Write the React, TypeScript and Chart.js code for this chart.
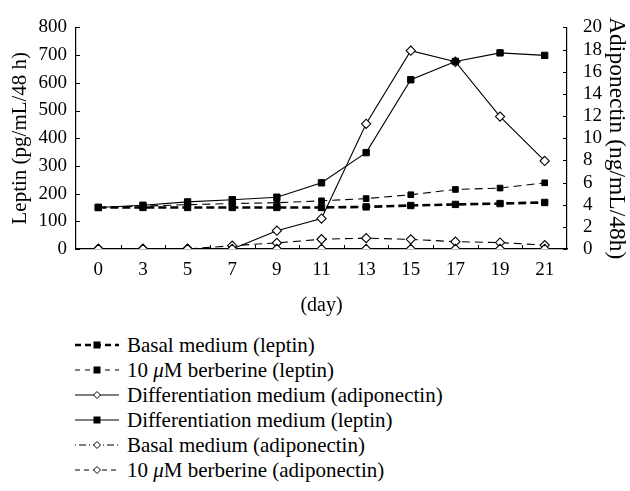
import React, { useEffect, useRef } from "react";
import { Chart, registerables } from "chart.js";

Chart.register(...registerables);

const days = ["0", "3", "5", "7", "9", "11", "13", "15", "17", "19", "21"];
const basalLeptin = [150, 150, 150, 150, 150, 150, 152, 157, 161, 164, 168];
const berberineLeptin = [150, 155, 160, 164, 167, 174, 182, 196, 215, 220, 239];
const diffAdipo = [0, 0, 0, 0, 1.65, 2.75, 11.3, 17.9, 16.9, 11.95, 7.95];
const diffLeptin = [150, 158, 170, 178, 187, 239, 348, 611, 677, 708, 699];
const basalAdipo = [0, 0, 0, 0, 0, 0, 0, 0, 0, 0, 0];
const berberineAdipo = [0, 0, 0, 0.3, 0.55, 0.88, 0.98, 0.87, 0.66, 0.58, 0.35];

const leptinTicks = [0, 100, 200, 300, 400, 500, 600, 700, 800];
const adipoTicks = [0, 2, 4, 6, 8, 10, 12, 14, 16, 18, 20];

const FONT = "'Liberation Serif', 'Times New Roman', Tinos, serif";

const innerTicks = {
  id: "innerTicks",
  afterDraw(chart: any) {
    const { x, y, y1 } = chart.scales;
    const { left, right, bottom } = chart.chartArea;
    const ctx = chart.ctx;
    ctx.save();
    ctx.strokeStyle = "#000";
    ctx.lineWidth = 1;
    ctx.beginPath();
    for (let i = 0; i < days.length - 1; i++) {
      const px = Math.round((x.getPixelForValue(i) + x.getPixelForValue(i + 1)) / 2) + 0.5;
      ctx.moveTo(px, bottom);
      ctx.lineTo(px, bottom - 4);
    }
    for (const v of leptinTicks) {
      const py = Math.round(y.getPixelForValue(v)) + 0.5;
      ctx.moveTo(left, py);
      ctx.lineTo(left + 4, py);
    }
    for (const v of adipoTicks) {
      const py = Math.round(y1.getPixelForValue(v)) + 0.5;
      ctx.moveTo(right, py);
      ctx.lineTo(right - 4, py);
    }
    ctx.stroke();
    ctx.restore();
  },
};

type LegendItem = { label: React.ReactNode; dash: string; width: number; marker: "square" | "diamond" };

const legendItems: LegendItem[] = [
  { label: "Basal medium (leptin)", dash: "6 4", width: 2.6, marker: "square" },
  { label: <>10 <i>μ</i>M berberine (leptin)</>, dash: "5 5", width: 1.2, marker: "square" },
  { label: "Differentiation medium (adiponectin)", dash: "", width: 1.2, marker: "diamond" },
  { label: "Differentiation medium (leptin)", dash: "", width: 1.2, marker: "square" },
  { label: "Basal medium (adiponectin)", dash: "1 3 7 3", width: 1.2, marker: "diamond" },
  { label: <>10 <i>μ</i>M berberine (adiponectin)</>, dash: "5 4", width: 1.2, marker: "diamond" },
];

export default function App() {
  const ref = useRef<HTMLCanvasElement>(null);

  useEffect(() => {
    document.body.style.margin = "0";
    const ctx = ref.current!;
    Chart.defaults.font.family = FONT;
    Chart.defaults.font.size = 19;
    Chart.defaults.color = "#000";
    const diamond = (data: number[], axis: string, dash: number[] | undefined, label: string) => ({
      label,
      data,
      yAxisID: axis,
      borderColor: "#000",
      borderWidth: 1.1,
      borderDash: dash,
      pointStyle: "rectRot",
      pointRadius: 4.6,
      pointBackgroundColor: "#fff",
      pointBorderColor: "#000",
      pointBorderWidth: 1.1,
    });
    const chart = new Chart(ctx, {
      type: "line",
      data: {
        labels: days,
        datasets: [
          diamond(basalAdipo, "y1", [7, 3, 1, 3], "Basal medium (adiponectin)"),
          diamond(berberineAdipo, "y1", [8, 5], "10 μM berberine (adiponectin)"),
          {
            label: "Basal medium (leptin)",
            data: basalLeptin,
            yAxisID: "y",
            borderColor: "#000",
            borderWidth: 2.6,
            borderDash: [8, 4],
            pointStyle: "rect",
            pointRadius: 4.5,
            pointBackgroundColor: "#000",
            pointBorderColor: "#000",
            pointBorderWidth: 1,
          },
          {
            label: "10 μM berberine (leptin)",
            data: berberineLeptin,
            yAxisID: "y",
            borderColor: "#000",
            borderWidth: 1.1,
            borderDash: [8, 5],
            pointStyle: "rect",
            pointRadius: 4,
            pointBackgroundColor: "#000",
            pointBorderColor: "#000",
            pointBorderWidth: 1,
          },
          {
            label: "Differentiation medium (leptin)",
            data: diffLeptin,
            yAxisID: "y",
            borderColor: "#000",
            borderWidth: 1.1,
            pointStyle: "rect",
            pointRadius: 4.5,
            pointBackgroundColor: "#000",
            pointBorderColor: "#000",
            pointBorderWidth: 1,
          },
          diamond(diffAdipo, "y1", undefined, "Differentiation medium (adiponectin)"),
        ],
      },
      options: {
        animation: false,
        responsive: false,
        devicePixelRatio: 1,
        layout: { padding: { top: 18, left: 0, right: 0, bottom: 0 } },
        plugins: { legend: { display: false }, tooltip: { enabled: false } },
        scales: {
          x: {
            type: "category",
            offset: true,
            grid: { display: false },
            border: { display: true, color: "#000", width: 1.2 },
            ticks: { padding: 2, maxRotation: 0, autoSkip: false, font: { size: 19, family: FONT } },
            title: { display: true, text: "(day)", padding: { top: 6, bottom: 2 }, font: { size: 20, family: FONT } },
            afterFit: (s: any) => {
              s.height = 71;
            },
          },
          y: {
            position: "left",
            min: 0,
            max: 800,
            afterBuildTicks: (s: any) => {
              s.ticks = leptinTicks.map((v) => ({ value: v }));
            },
            grid: { drawOnChartArea: false, drawTicks: false },
            border: { display: true, color: "#000", width: 1.2 },
            ticks: { padding: 9, autoSkip: false, font: { size: 19, family: FONT } },
            title: { display: true, text: "Leptin (pg/mL/48 h)", padding: { top: 8, bottom: 0 }, font: { size: 21, family: FONT } },
            afterFit: (s: any) => {
              s.width = 76;
            },
          },
          y1: {
            position: "right",
            min: 0,
            max: 20,
            afterBuildTicks: (s: any) => {
              s.ticks = adipoTicks.map((v) => ({ value: v }));
            },
            grid: { drawOnChartArea: false, drawTicks: false },
            border: { display: true, color: "#000", width: 1.2 },
            ticks: { padding: 16, autoSkip: false, font: { size: 19, family: FONT } },
            title: { display: true, text: "Adiponectin (ng/mL/48h)", padding: { top: 0, bottom: 3 }, font: { size: 23.5, family: FONT } },
            afterFit: (s: any) => {
              s.width = 63;
            },
          },
        },
      },
      plugins: [innerTicks],
    });
    return () => chart.destroy();
  }, []);

  return (
    <div style={{ position: "relative", width: 630, height: 491, background: "#fff", fontFamily: FONT }}>
      <canvas ref={ref} width={630} height={320} style={{ display: "block" }} />
      {legendItems.map((it, i) => {
        const y = 345 + i * 25;
        return (
          <div key={i} style={{ position: "absolute", left: 74, top: y - 12, height: 24, display: "flex", alignItems: "center" }}>
            <svg width={46} height={14} style={{ display: "block" }}>
              <line x1={1} y1={7} x2={45} y2={7} stroke="#000" strokeWidth={it.width} strokeDasharray={it.dash || undefined} />
              {it.marker === "square" ? (
                <rect x={19.5} y={3.5} width={7} height={7} fill="#000" />
              ) : (
                <polygon points="23,3.5 26.5,7 23,10.5 19.5,7" fill="#fff" stroke="#000" strokeWidth={1} />
              )}
            </svg>
            <span style={{ marginLeft: 7, fontSize: 21, lineHeight: "24px", whiteSpace: "nowrap", fontFamily: FONT }}>{it.label}</span>
          </div>
        );
      })}
    </div>
  );
}
